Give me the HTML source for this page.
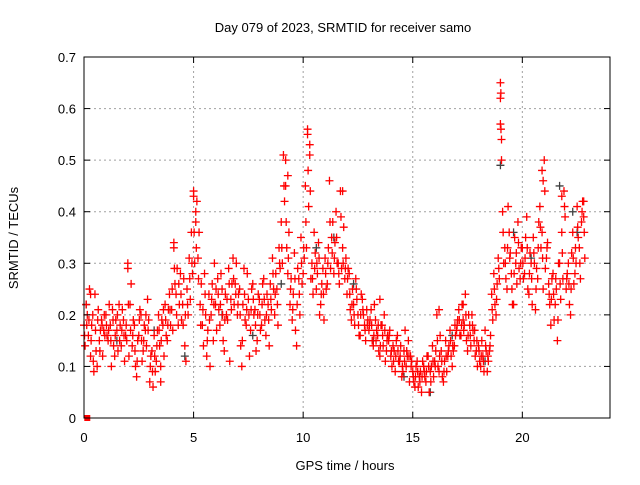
<!DOCTYPE html>
<html><head><meta charset="utf-8"><style>
body{margin:0;background:#fff;}
svg text{font-family:"Liberation Sans",sans-serif;font-size:13px;fill:#000;}
</style></head><body>
<svg id="chart" width="640" height="480" viewBox="0 0 640 480" xmlns="http://www.w3.org/2000/svg">
<rect x="0" y="0" width="640" height="480" fill="#fff"/>
<text x="343" y="32" text-anchor="middle">Day 079 of 2023, SRMTID for receiver samo</text>
<text x="345" y="470" text-anchor="middle">GPS time / hours</text>
<text transform="translate(18,238) rotate(-90)" text-anchor="middle">SRMTID / TECUs</text>
<g id="grid"></g><g id="gray"></g><g id="red"></g><g id="axes"></g>
</svg>
<script>
const xTicks=[0,5,10,15,20];
const yTicks=[0,0.1,0.2,0.3,0.4,0.5,0.6,0.7];
const yTickLabels=["0","0.1","0.2","0.3","0.4","0.5","0.6","0.7"];
const stepHours=0.1;
const seriesA=[18,22,16,12,20,24,10,15,19,17, 20,15,18,21,12,17,22,14,19,16, 30,22,14,18,8,16,20,13,17,23, 7,13,16,11,20,10,18,22,15,24, 21,33,24,18,28,22,14,25,31,36, 44,38,31,22,18,28,12,24,20,15, 22,27,18,25,13,20,29,23,31,26, 20,25,10,29,18,23,17,26,21,15, 23,18,27,16,22,26,31,20,25,33, 38,51,45,28,22,19,32,14,27,35, 28,45,56,51,30,36,25,34,22,29, 31,26,46,35,28,40,30,44,33,27, 24,28,19,22,27,20,16,23,18,21, 17,21,14,19,16,12,18,20,13,15, 12,14,9,16,11,8,13,10,15,12, 9,6,11,8,5,10,7,12,9,14, 11,20,9,13,7,15,12,17,10,14, 17,21,16,19,24,13,18,20,15,13, 14,10,12,17,9,13,24,28,20,31, 62,40,33,25,36,28,22,30,38,27, 33,28,39,24,30,35,21,27,41,36, 50,31,26,18,28,22,15,30,36,44, 25,30,20,36,28,41,33,38,39];
const seriesB=[14,20,25,18,9,13,21,17,12,16, 16,22,10,14,19,13,18,21,11,15, 12,26,19,10,15,21,11,18,14,19, 12,6,9,17,14,19,12,16,21,18, 17,26,29,22,19,27,11,20,23,28, 30,42,36,26,14,20,17,10,26,30, 17,21,28,15,24,19,11,26,22,30, 24,14,22,19,28,12,25,20,13,24, 17,26,19,24,14,21,25,28,18,29, 30,42,33,36,27,24,17,29,20,26, 31,33,41,27,24,32,28,20,26,19, 25,33,29,38,34,30,26,29,37,31, 29,21,25,18,23,16,24,20,15,19, 19,15,22,17,13,18,14,11,16,17, 10,13,15,11,14,9,17,12,7,11, 7,10,6,9,11,8,12,5,10,8, 13,10,16,8,11,9,14,12,13,16, 19,16,22,18,15,20,14,17,12,10, 11,15,9,13,11,16,19,22,26,27, 50,30,27,41,32,22,35,26,29,33, 27,35,25,32,22,30,29,38,33,25, 29,34,22,27,19,25,30,23,27,39, 28,22,32,26,30,35,27,42,31];
const seriesC=[16,18,19,15,11,17,19,13,18,20, 18,17,15,19,16,20,15,17,16,18, 22,17,16,13,11,19,15,15,20,17, 10,9,12,14,17,15,21,19,18,21, 25,29,20,26,24,18,20,22,27,30, 36,33,27,18,21,24,15,19,23,22, 25,24,22,20,19,23,26,21,27,24, 22,20,15,24,21,20,21,23,18,20, 20,22,23,20,19,23,28,24,22,30, 33,45,38,31,25,21,27,22,24,30, 33,38,48,44,27,29,30,31,24,24, 28,30,38,32,31,35,28,39,30,29, 27,24,22,20,25,18,20,21,17,18, 18,18,16,15,18,14,16,17,15,16, 13,11,12,13,12,10,11,13,12,10, 8,8,9,7,8,9,9,10,7,11, 10,15,12,11,9,12,13,15,14,18, 18,19,18,17,20,16,16,18,17,15, 13,12,11,14,12,14,21,25,23,29, 56,36,30,33,31,25,28,32,34,30, 30,31,33,28,27,32,25,33,37,31, 44,33,24,23,24,27,19,26,32,41, 27,26,25,31,33,37,30,40,36];
const extraHours=[9.2,9.3,10.2,10.3,5.0,5.1,11.8,19.0,19.02,19.0,19.05,20.9,20.95,21.8,22.8,16.2,4.1,0.3,2.0,3.5,13.5,17.3];
const extraValues=[0.50,0.47,0.55,0.53,0.43,0.40,0.44,0.65,0.63,0.57,0.54,0.48,0.46,0.43,0.42,0.21,0.34,0.24,0.29,0.07,0.23,0.22];
const grayHours=[0.1,1.5,3.2,4.6,6.3,7.7,9.0,10.6,11.4,12.3,13.2,14.6,15.8,16.8,18.3,19.0,19.6,20.4,21.7,22.5,22.3];
const grayValues=[0.22,0.15,0.17,0.12,0.20,0.16,0.26,0.33,0.35,0.26,0.15,0.08,0.05,0.16,0.11,0.49,0.36,0.31,0.45,0.36,0.40];

const X0=84,X1=610,Y0=418,Y1=57;
const sx=h=>X0+h/24*(X1-X0);
const sy=v=>Y0-v/0.7*(Y0-Y1);
const NS="http://www.w3.org/2000/svg";
function mk(tag,attrs,parent){const e=document.createElementNS(NS,tag);for(const k in attrs)e.setAttribute(k,attrs[k]);parent.appendChild(e);return e;}
const grid=document.getElementById('grid'),axes=document.getElementById('axes');
yTicks.forEach((t,i)=>{
  if(t>0&&t<0.7){const g=mk('line',{x1:X0,x2:X1,y1:sy(t),y2:sy(t),stroke:'#a0a0a0','stroke-dasharray':'2,3'},grid);
  
  }
  const tl=mk('text',{x:X0-8,y:sy(t)+5,'text-anchor':'end'},axes);tl.textContent=yTickLabels[i];
  
  
  mk('line',{x1:X0,x2:X0+6,y1:sy(t),y2:sy(t),stroke:'#000'},axes);
  mk('line',{x1:X1,x2:X1-6,y1:sy(t),y2:sy(t),stroke:'#000'},axes);
});
xTicks.forEach(t=>{
  if(t>0){const g=mk('line',{x1:sx(t),x2:sx(t),y1:Y0,y2:Y1,stroke:'#a0a0a0','stroke-dasharray':'2,3'},grid);
  
  }
  const tl=mk('text',{x:sx(t),y:Y0+24,'text-anchor':'middle'},axes);tl.textContent=String(t);
  
  
  mk('line',{x1:sx(t),x2:sx(t),y1:Y0,y2:Y0-6,stroke:'#000'},axes);
  mk('line',{x1:sx(t),x2:sx(t),y1:Y1,y2:Y1+6,stroke:'#000'},axes);
});
const frame=mk('rect',{x:X0,y:Y1,width:X1-X0,height:Y0-Y1,fill:'none',stroke:'#000'},axes);


function cross(h,v,col,parent){
  const x=sx(h),y=sy(v);
  const p=mk('path',{d:`M${x-4} ${y}H${x+4}M${x} ${y-4}V${y+4}`,stroke:col,'stroke-width':1.3,fill:'none'},parent);
  
  
}
const gray=document.getElementById('gray'),red=document.getElementById('red');
grayHours.forEach((h,i)=>cross(h,grayValues[i],'#404040',gray));
seriesA.forEach((v,i)=>cross(i*stepHours,v/100,'#ff0000',red));
seriesB.forEach((v,i)=>cross(i*stepHours+0.05,v/100,'#ff0000',red));
seriesC.forEach((v,i)=>cross(i*stepHours+0.025,v/100,'#ff0000',red));
extraHours.forEach((h,i)=>cross(h,extraValues[i],'#ff0000',red));
const sq=mk('rect',{x:sx(0.15)-3,y:Y0-3,width:6,height:6,fill:'#ff0000'},red);


</script>
</body></html>
